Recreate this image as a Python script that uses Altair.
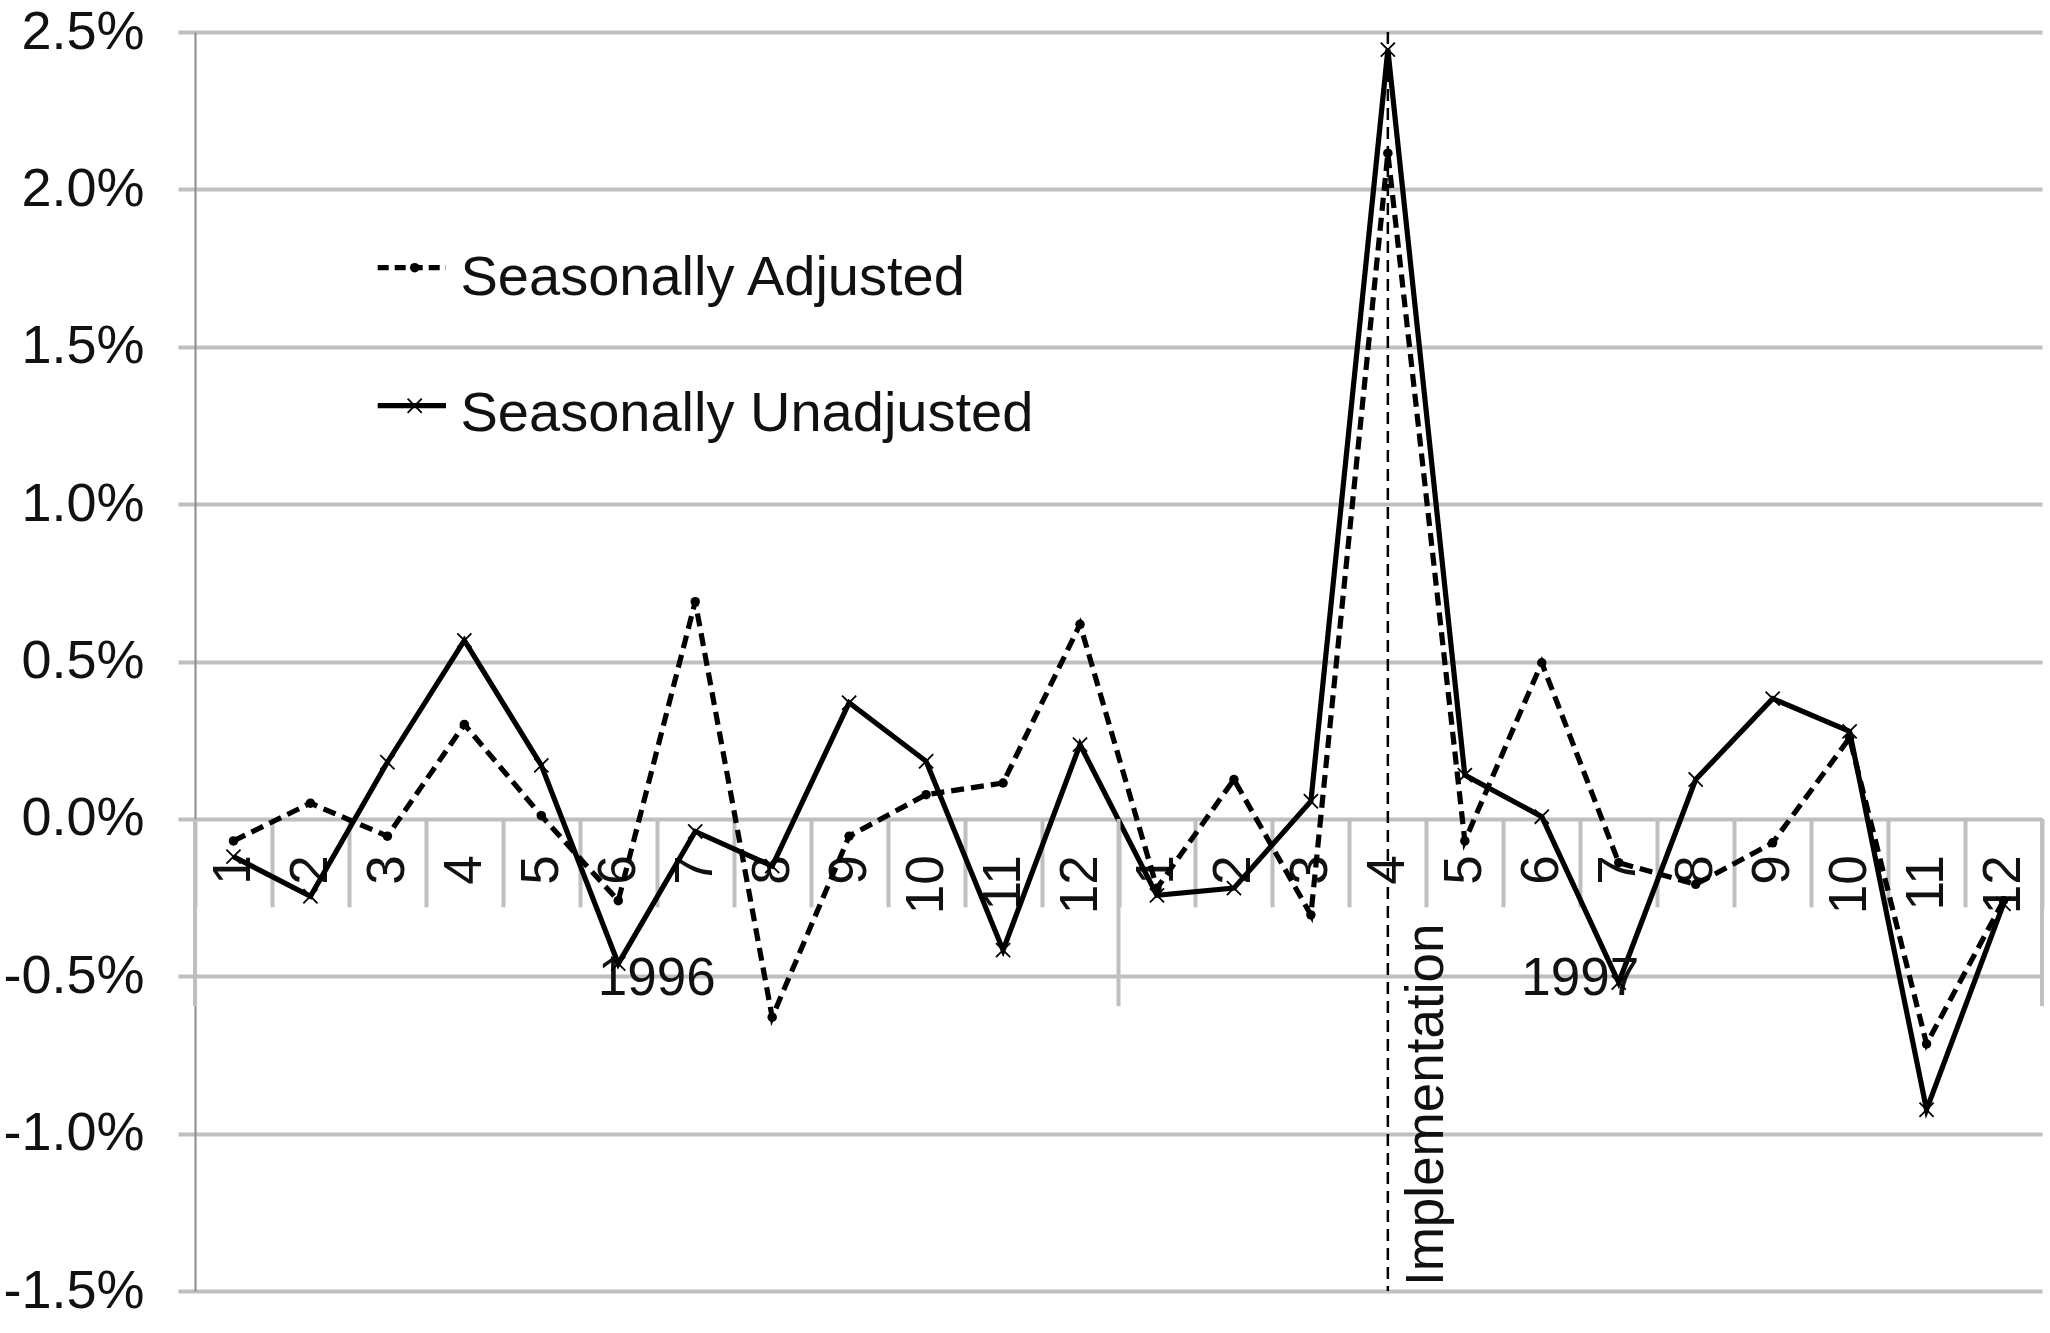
import altair as alt
import pandas as pd

# ---------------- data ----------------
years = ["1996"] * 12 + ["1997"] * 12
months = ["1", "2", "3", "4", "5", "6", "7", "8", "9", "10", "11", "12",
          "1", "2", "3", "4", "5", "6", "7", "8", "9", "10", "11", "12"]
keys = [f"{y}-{m}" for y, m in zip(years, months)]

# percent change
adjusted = [-0.07, 0.05, -0.055, 0.30, 0.01, -0.26, 0.69, -0.63, -0.055, 0.077, 0.114, 0.618,
            -0.22, 0.125, -0.305, 2.115, -0.07, 0.496, -0.139, -0.208, -0.076, 0.257, -0.715, -0.26]
unadjusted = [-0.12, -0.246, 0.18, 0.567, 0.17, -0.46, -0.04, -0.15, 0.369, 0.183, -0.417, 0.236,
              -0.243, -0.22, 0.056, 2.444, 0.139, 0.007, -0.52, 0.125, 0.382, 0.278, -0.924, -0.27]

y_ticks = [-1.5, -1.0, -0.5, 0.0, 0.5, 1.0, 1.5, 2.0, 2.5]

year_names = ["1996", "1997"]
year_anchor = ["1996-7", "1997-7"]          # year label sits at the left edge of July
sep_left = ["1996-1", "1997-1"]             # group separators at band start
sep_right = ["1997-12"]                     # final separator at band end

impl_key = ["1997-4"]
impl_label = ["Implementation"]

series_names = ["Seasonally Adjusted", "Seasonally Unadjusted"]

# ---------------- layout ----------------
W, H = 1847, 1259
FONT = "Liberation Sans"
TXT = "#111111"
GRID = "#BFBFBF"
X_SHAPE = "M-1,-1L1,1M-1,1L1,-1"
LW = 5.2
DASH = [13, 7]

df_adj = pd.DataFrame({"key": keys, "value": adjusted})
df_unadj = pd.DataFrame({"key": keys, "value": unadjusted})
df_years = pd.DataFrame({"key": year_anchor, "year": year_names})
df_sep_l = pd.DataFrame({"key": sep_left})
df_sep_r = pd.DataFrame({"key": sep_right})
df_impl = pd.DataFrame({"key": impl_key, "label": impl_label})
one_row = alt.Data(values=[{"k": 0}])

x_scale = alt.Scale(type="band", domain=keys, paddingInner=0, paddingOuter=0)
y_scale = alt.Scale(domain=[-1.5, 2.5], nice=False, zero=False)

x_axis = alt.Axis(
    title=None, orient="bottom", offset=-(1.5 / 4.0) * H,
    domain=False, grid=False,
    tickBand="extent", ticks=True, tickSize=88, tickWidth=4, tickColor=GRID,
    labelAngle=270, labelAlign="right", labelBaseline="middle",
    labelPadding=-52, labelFont=FONT, labelFontSize=53, labelColor=TXT,
    labelOverlap=False, labelFlush=False,
    labelExpr="split(datum.label, '-')[1]",
)
y_axis = alt.Axis(
    title=None, values=y_ticks, grid=True, gridColor=GRID, gridWidth=4,
    domain=True, domainColor="#8C8C8C", domainWidth=2,
    ticks=True, tickSize=17, tickColor=GRID, tickWidth=4,
    labelPadding=34, labelFont=FONT, labelFontSize=54, labelColor=TXT,
    labelExpr="(datum.value < 0 ? '-' : '') + format(abs(datum.value), '.1f') + '%'",
)


def xk(band):
    return alt.X("key:N", scale=x_scale, bandPosition=band, axis=x_axis)


def yv():
    return alt.Y("value:Q", scale=y_scale, axis=y_axis)


def yd(v):
    return alt.datum(v, scale=y_scale, axis=y_axis)


# year group separators
sep_l = alt.Chart(df_sep_l).mark_rule(color=GRID, strokeWidth=4).encode(
    x=xk(0), y=yd(0.0), y2=alt.datum(-0.595),
)
sep_r = alt.Chart(df_sep_r).mark_rule(color=GRID, strokeWidth=4).encode(
    x=xk(1), y=yd(0.0), y2=alt.datum(-0.595),
)

year_text = alt.Chart(df_years).mark_text(
    font=FONT, fontSize=53, color=TXT, align="center", baseline="middle"
).encode(x=xk(0), y=yd(-0.51), text="year:N")

# implementation marker
impl_rule = alt.Chart(df_impl).mark_rule(color="black", strokeWidth=2.5, strokeDash=[12, 7]).encode(
    x=xk(0.5), y=yd(2.5), y2=alt.datum(-1.5),
)
impl_text = alt.Chart(df_impl).mark_text(
    font=FONT, fontSize=53, color=TXT, angle=270, align="left",
    baseline="alphabetic", dx=5, dy=55,
).encode(x=xk(0.5), y=yd(-1.5), text="label:N")

# series
line_unadj = alt.Chart(df_unadj).mark_line(color="black", strokeWidth=LW).encode(
    x=xk(0.5), y=yv())
pts_unadj = alt.Chart(df_unadj).mark_point(
    shape=X_SHAPE, filled=False, size=200, strokeWidth=1.8, color="black", opacity=1
).encode(x=xk(0.5), y=yv())
line_adj = alt.Chart(df_adj).mark_line(color="black", strokeWidth=LW, strokeDash=DASH).encode(
    x=xk(0.5), y=yv())
pts_adj = alt.Chart(df_adj).mark_point(
    shape="circle", filled=True, size=90, color="black", opacity=1
).encode(x=xk(0.5), y=yv())

# legend (drawn manually to mimic the line-with-marker samples)
LX1, LX2, LXM, LTX = 182.7, 251.0, 219.7, 265.5
LY1, LY2 = 235.7, 373.7
lg_rule1 = alt.Chart(one_row).mark_rule(color="black", strokeWidth=LW, strokeDash=[11, 6]).encode(
    x=alt.value(LX1), x2=alt.value(LX2), y=alt.value(LY1))
lg_pt1 = alt.Chart(one_row).mark_point(shape="circle", filled=True, size=90, color="black", opacity=1).encode(
    x=alt.value(LXM), y=alt.value(LY1))
lg_txt1 = alt.Chart(one_row).mark_text(
    text=series_names[0], font=FONT, fontSize=56, color=TXT, align="left", baseline="alphabetic"
).encode(x=alt.value(LTX), y=alt.value(LY1 + 27))
lg_rule2 = alt.Chart(one_row).mark_rule(color="black", strokeWidth=LW).encode(
    x=alt.value(LX1), x2=alt.value(LX2), y=alt.value(LY2))
lg_pt2 = alt.Chart(one_row).mark_point(shape=X_SHAPE, filled=False, size=200, strokeWidth=1.8,
                                        color="black", opacity=1).encode(
    x=alt.value(LXM), y=alt.value(LY2))
lg_txt2 = alt.Chart(one_row).mark_text(
    text=series_names[1], font=FONT, fontSize=56, color=TXT, align="left", baseline="alphabetic"
).encode(x=alt.value(LTX), y=alt.value(LY2 + 25.5))

chart = alt.layer(
    line_unadj, sep_l, sep_r, year_text, impl_rule, impl_text,
    pts_unadj, line_adj, pts_adj,
    lg_rule1, lg_pt1, lg_txt1, lg_rule2, lg_pt2, lg_txt2,
).properties(
    width=W, height=H,
    padding={"left": 195, "top": 32, "right": 8, "bottom": 42},
    autosize=alt.AutoSizeParams(type="none"),
    background="white",
).configure_view(stroke=None)

chart.save("out.html", embed_options={"renderer": "svg", "actions": False})
